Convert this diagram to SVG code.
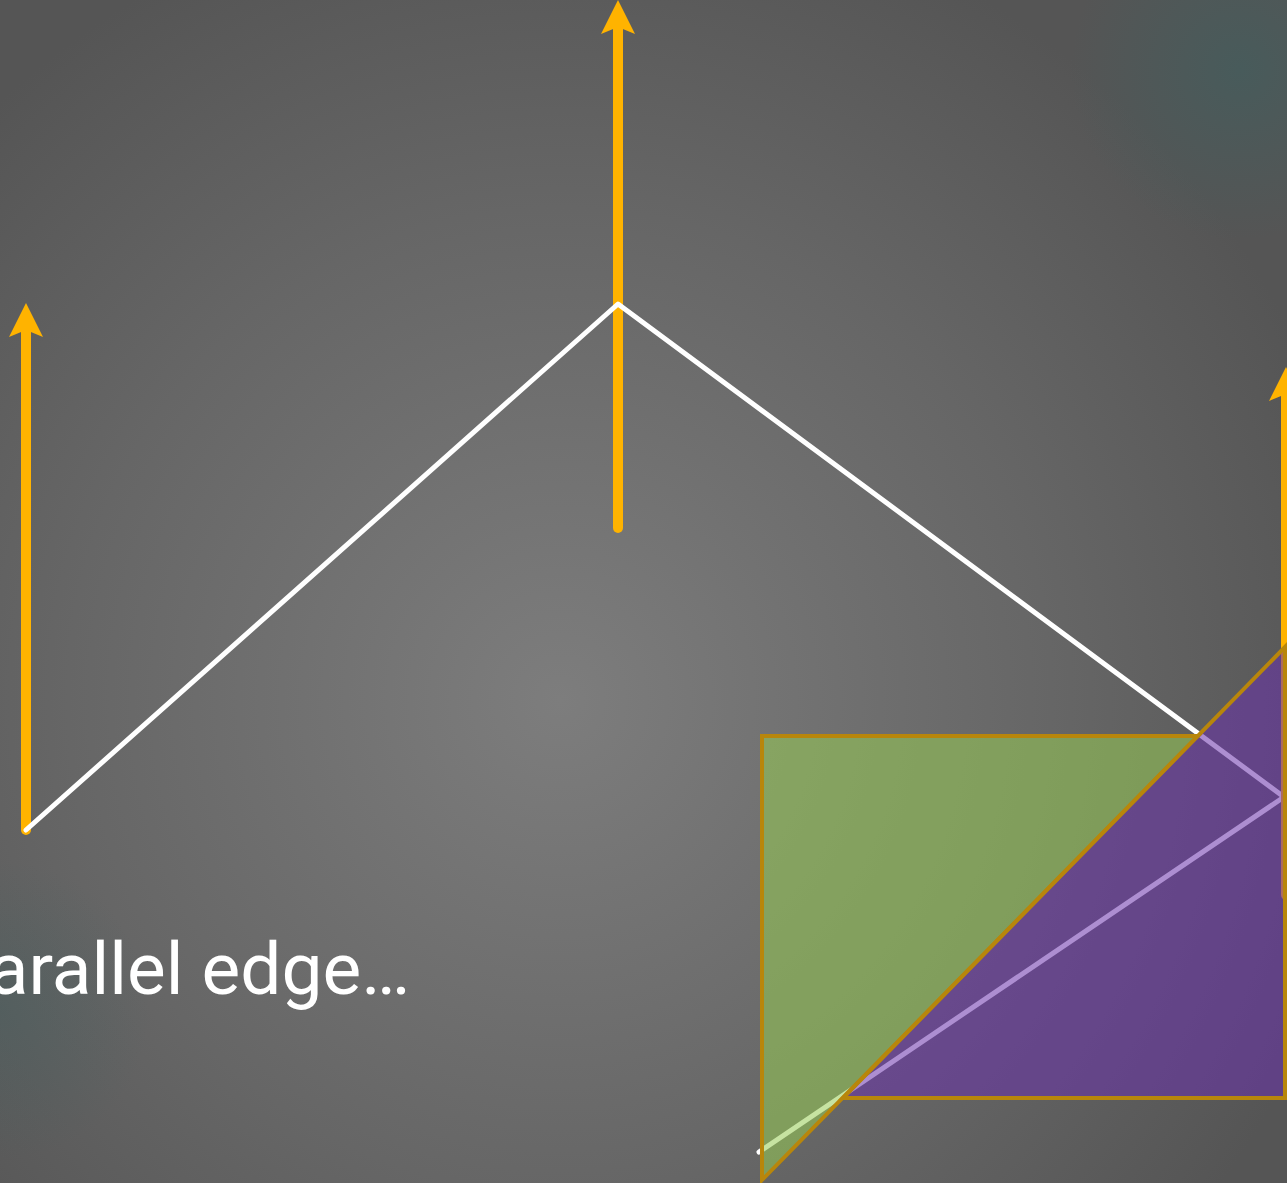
<svg xmlns="http://www.w3.org/2000/svg" width="1287" height="1183" viewBox="0 0 1287 1183">
<defs>
<radialGradient id="bg" gradientUnits="userSpaceOnUse" cx="560" cy="700" r="820">
<stop offset="0" stop-color="#7d7d7d"/>
<stop offset="0.6" stop-color="#666666"/>
<stop offset="1" stop-color="#555555"/>
</radialGradient>
<radialGradient id="glowTR" gradientUnits="userSpaceOnUse" cx="1240" cy="70" r="170">
<stop offset="0" stop-color="#3f5f5f" stop-opacity="0.6"/>
<stop offset="1" stop-color="#3f5f5f" stop-opacity="0"/>
</radialGradient>
<radialGradient id="glowBL" gradientUnits="userSpaceOnUse" cx="0" cy="1010" r="150">
<stop offset="0" stop-color="#3f5f5f" stop-opacity="0.35"/>
<stop offset="1" stop-color="#3f5f5f" stop-opacity="0"/>
</radialGradient>
<marker id="arrow" markerUnits="userSpaceOnUse" markerWidth="36" markerHeight="36" refX="7" refY="17" orient="auto" overflow="visible">
<path d="M0,0 L34,17 L0,34 L7,17 Z" fill="#FFB300"/>
</marker>
<style>
.arr{stroke:#FFB300;stroke-width:10;stroke-linecap:round;fill:none;marker-end:url(#arrow)}
.edge{stroke:#ffffff;stroke-width:5;stroke-linecap:round;stroke-linejoin:round;fill:none}
.tri{stroke:#B8860B;stroke-width:4;stroke-linejoin:miter}
.lbl{font-family:Roboto,"Liberation Sans",sans-serif;font-size:73px;fill:#ffffff}
</style>
</defs>
<rect width="1287" height="1183" fill="url(#bg)"/>
<rect width="1287" height="1183" fill="url(#glowTR)"/>
<rect width="1287" height="1183" fill="url(#glowBL)"/>
<g id="arrow-left"><line class="arr" x1="26" y1="830" x2="26" y2="330"/></g>
<g id="arrow-top"><line class="arr" x1="618" y1="528" x2="618" y2="27"/></g>
<g id="connectors">
<polyline class="edge" points="26,830 618,304 1284,797 759,1152"/>
</g>
<g id="arrow-right"><line class="arr" x1="1286" y1="895" x2="1286" y2="394"/></g>
<g id="green-node"><polygon class="tri" points="762,736 1198,736 762,1180" fill="#97CC54" fill-opacity="0.55"/></g>
<g id="purple-node"><polygon class="tri" points="1285,647 1285,1098 843,1098" fill="#6A31AB" fill-opacity="0.55"/></g>
<g id="label"><text class="lbl" x="410" y="994" text-anchor="end">arallel edge…</text></g>
</svg>
